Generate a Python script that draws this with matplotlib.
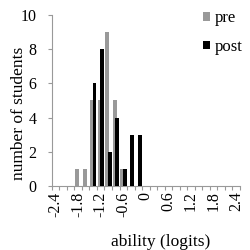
import numpy as np
import matplotlib
matplotlib.use("Agg")
import matplotlib.pyplot as plt
import matplotlib.transforms as mtransforms

# ability bins (logits), one category per 0.2
bins = [round(-2.4 + 0.2 * i, 1) for i in range(25)]
pre_counts = [0, 0, 0, 1, 1, 5, 5, 9, 5, 1, 0, 0, 0,
              0, 0, 0, 0, 0, 0, 0, 0, 0, 0, 0, 0]
post_counts = [0, 0, 0, 0, 0, 6, 8, 2, 4, 1, 3, 3, 0,
               0, 0, 0, 0, 0, 0, 0, 0, 0, 0, 0, 0]
tick_labels = ["-2.4", "-1.8", "-1.2", "-0.6", "0", "0.6", "1.2", "1.8", "2.4"]

plt.rcParams["font.family"] = ["Liberation Serif", "DejaVu Serif"]

fig = plt.figure(figsize=(2.5, 2.5), dpi=100)
ax = fig.add_axes([0.207, 0.256, 0.753, 0.684])

x = np.arange(len(bins))
ax.bar(x - 0.14, pre_counts, width=0.52, color="#999999", label="pre", zorder=2)
ax.bar(x + 0.18, post_counts, width=0.52, color="black", label="post", zorder=3)

ax.set_xlim(-0.5, len(bins) - 0.5)
ax.set_ylim(0, 10)
ax.set_yticks(range(0, 11, 2))

# minor ticks between categories, labels every third category
ax.set_xticks(np.arange(-0.5, len(bins), 1.0), minor=True)
ax.set_xticks(x[::3])
ax.set_xticklabels(tick_labels, rotation=90, fontsize=11.5)
shift = mtransforms.ScaledTranslation(2 / 100, 0, fig.dpi_scale_trans)
for lab in ax.get_xticklabels():
    lab.set_transform(lab.get_transform() + shift)
ax.tick_params(axis="x", which="major", length=0, pad=4)
ax.tick_params(axis="x", which="minor", length=3, color="#999999", width=0.8)
ax.tick_params(axis="y", length=3, color="#999999", width=0.8, labelsize=11.5, pad=8)

for side in ["top", "right"]:
    ax.spines[side].set_visible(False)
for side in ["left", "bottom"]:
    ax.spines[side].set_color("#999999")
    ax.spines[side].set_linewidth(0.8)

ax.set_xlabel("ability (logits)", fontsize=12.5)
ax.xaxis.set_label_coords(0.58, -0.28)
ax.set_ylabel("number of students", fontsize=12.5)
ax.yaxis.set_label_coords(-0.13, 0.427)

fig.legend(loc="upper left", bbox_to_anchor=(0.785, 0.985), frameon=False,
           fontsize=12, handlelength=0.4, handleheight=0.4, handletextpad=0.3,
           labelspacing=0.75, borderaxespad=0)

fig.savefig("out.png", dpi=100)
